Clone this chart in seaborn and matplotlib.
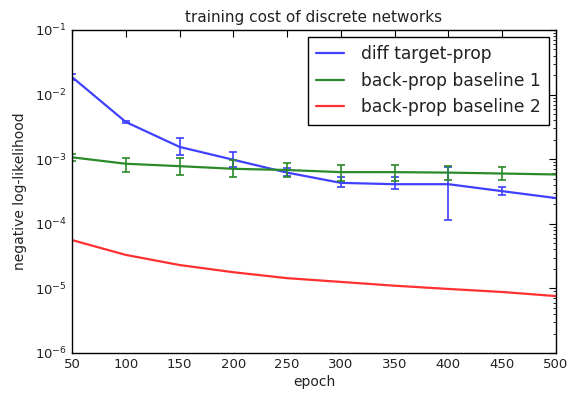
import numpy as np
import pandas as pd
import seaborn as sns
import matplotlib
matplotlib.use("Agg")
import matplotlib.pyplot as plt
from matplotlib.ticker import LogLocator

epochs = [50, 100, 150, 200, 250, 300, 350, 400, 450, 500]
series_names = ["diff target-prop", "back-prop baseline 1", "back-prop baseline 2"]

target_prop = [1.87e-2, 3.77e-3, 1.55e-3, 9.8e-4, 6.2e-4, 4.3e-4, 4.1e-4, 4.1e-4, 3.2e-4, 2.5e-4]
target_prop_lo = [1.70e-2, 3.60e-3, 1.17e-3, 7.5e-4, 5.4e-4, 3.7e-4, 3.4e-4, 1.15e-4, 2.8e-4, 2.5e-4]
target_prop_hi = [2.05e-2, 3.95e-3, 2.10e-3, 1.30e-3, 7.2e-4, 5.3e-4, 5.3e-4, 7.6e-4, 3.7e-4, 2.5e-4]

baseline1 = [1.07e-3, 8.5e-4, 7.8e-4, 7.1e-4, 6.8e-4, 6.3e-4, 6.3e-4, 6.2e-4, 6.0e-4, 5.8e-4]
baseline1_lo = [9.5e-4, 6.3e-4, 5.7e-4, 5.3e-4, 5.3e-4, 4.6e-4, 4.6e-4, 4.8e-4, 4.7e-4, 5.8e-4]
baseline1_hi = [1.20e-3, 1.04e-3, 1.04e-3, 9.7e-4, 8.7e-4, 8.1e-4, 8.1e-4, 7.8e-4, 7.6e-4, 5.8e-4]

baseline2 = [5.6e-5, 3.3e-5, 2.3e-5, 1.78e-5, 1.44e-5, 1.26e-5, 1.1e-5, 9.8e-6, 8.8e-6, 7.6e-6]

colors = ["#4040ff", "#2a8a2a", "#ff3030"]

df = pd.DataFrame({
    "epoch": epochs * 3,
    "value": target_prop + baseline1 + baseline2,
    "series": [series_names[0]] * 10 + [series_names[1]] * 10 + [series_names[2]] * 10,
})

sns.set_theme(style="white")
plt.rcParams["font.family"] = ["DejaVu Sans"]
plt.rcParams["mathtext.default"] = "regular"

fig = plt.figure(figsize=(5.74, 3.93), dpi=100)
ax = fig.add_axes([0.1254, 0.1018, 0.8432, 0.8219])

sns.lineplot(data=df, x="epoch", y="value", hue="series", palette=colors,
             hue_order=series_names, linewidth=1.6, ax=ax, legend=True)

for vals, lo, hi, c in [(target_prop, target_prop_lo, target_prop_hi, colors[0]),
                        (baseline1, baseline1_lo, baseline1_hi, colors[1])]:
    v = np.array(vals)
    yerr = np.vstack([v - np.array(lo), np.array(hi) - v])
    ax.errorbar(epochs, v, yerr=yerr, fmt="none", ecolor=c, elinewidth=1.2,
                capsize=3, capthick=1.2)

ax.set_yscale("log")
ax.set_ylim(1e-6, 1e-1)
ax.set_xlim(50, 500)
ax.set_xticks(epochs)
ax.yaxis.set_major_locator(LogLocator(base=10, numticks=10))
ax.yaxis.set_minor_locator(LogLocator(base=10, subs=np.arange(2, 10), numticks=20))
ax.tick_params(which="both", direction="in", top=True, right=True, labelsize=9.5,
               colors="black", labelcolor="#222222")
ax.tick_params(which="major", length=5, width=0.8)
ax.tick_params(which="minor", length=2.5, width=0.6)
for s in ax.spines.values():
    s.set_color("black")
    s.set_linewidth(1.0)

ax.set_title("training cost of discrete networks", fontsize=11, color="#222222", pad=6)
ax.set_xlabel("epoch", fontsize=10, color="#222222", labelpad=3)
ax.set_ylabel("negative log-likelihood", fontsize=10, color="#222222", labelpad=6)

leg = ax.legend(loc="upper right", fontsize=12.3, frameon=True, fancybox=False,
                edgecolor="black", framealpha=1, borderpad=0.5, handlelength=1.6,
                handletextpad=1.0, labelspacing=0.5, borderaxespad=0.4)
leg.get_frame().set_linewidth(1.0)
for t in leg.get_texts():
    t.set_color("#222222")

fig.savefig("out.png", dpi=100)
